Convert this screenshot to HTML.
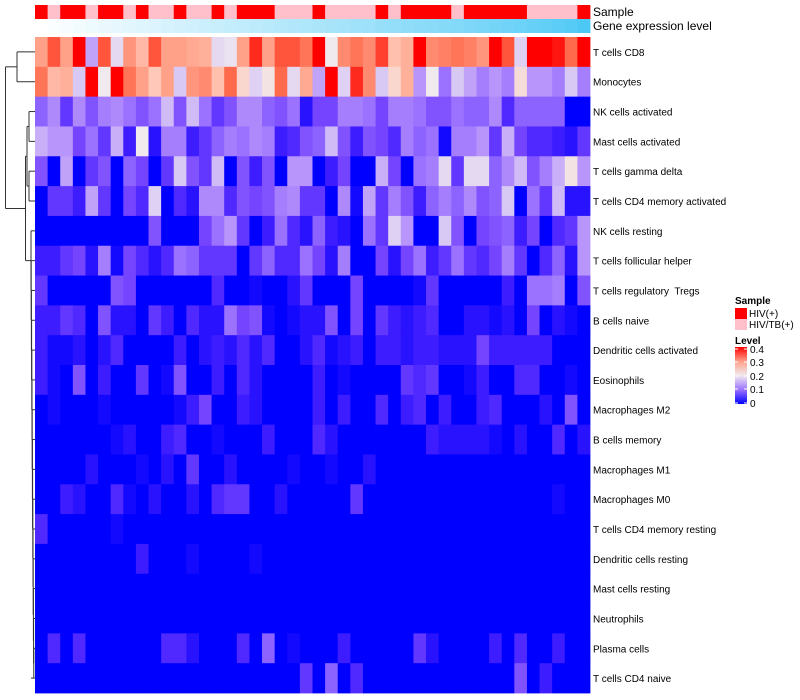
<!DOCTYPE html>
<html><head><meta charset="utf-8"><style>
html,body{margin:0;padding:0;background:#fff;}
svg{display:block;font-family:"Liberation Sans",sans-serif;}
#labels text{white-space:pre;}
</style></head><body>
<svg id="chart" width="800" height="700" viewBox="0 0 800 700">
<g id="cells"></g>
<g id="annot"></g>
<g id="labels"></g>
<g id="dendro" stroke="#333" stroke-width="1" fill="none"></g>
<text x="593" y="16" font-size="12">Sample</text>
<text x="593" y="30" font-size="12">Gene expression level</text>
<g>
<text x="735" y="304" font-size="10" font-weight="bold">Sample</text>
<rect x="735" y="308" width="12" height="11" fill="#ff0000"/>
<text x="749" y="317" font-size="10">HIV(+)</text>
<rect x="735" y="319" width="12" height="11" fill="#ffc0cb"/>
<text x="749" y="328" font-size="10">HIV/TB(+)</text>
<text x="735" y="344" font-size="10" font-weight="bold">Level</text>
<defs><linearGradient id="lg" x1="0" y1="1" x2="0" y2="0">
<stop offset="0" stop-color="#0000ff"/><stop offset="0.25" stop-color="#9a72ff"/><stop offset="0.5" stop-color="#f0eaee"/><stop offset="0.75" stop-color="#ffa088"/><stop offset="1" stop-color="#ff0000"/></linearGradient></defs>
<rect x="735" y="347" width="12" height="57" fill="url(#lg)"/>
<g stroke="#fff" stroke-width="1">
<line x1="735" y1="349" x2="738" y2="349"/><line x1="744" y1="349" x2="747" y2="349"/>
<line x1="735" y1="362" x2="738" y2="362"/><line x1="744" y1="362" x2="747" y2="362"/>
<line x1="735" y1="376" x2="738" y2="376"/><line x1="744" y1="376" x2="747" y2="376"/>
<line x1="735" y1="389" x2="738" y2="389"/><line x1="744" y1="389" x2="747" y2="389"/>
<line x1="735" y1="403" x2="738" y2="403"/><line x1="744" y1="403" x2="747" y2="403"/>
</g>
<text x="750" y="353" font-size="10">0.4</text>
<text x="750" y="366" font-size="10">0.3</text>
<text x="750" y="380" font-size="10">0.2</text>
<text x="750" y="393" font-size="10">0.1</text>
<text x="750" y="407" font-size="10">0</text>
</g>
</svg>
<script>
const rowNames = ["T cells CD8","Monocytes","NK cells activated","Mast cells activated","T cells gamma delta","T cells CD4 memory activated","NK cells resting","T cells follicular helper","T cells regulatory  Tregs","B cells naive","Dendritic cells activated","Eosinophils","Macrophages M2","B cells memory","Macrophages M1","Macrophages M0","T cells CD4 memory resting","Dendritic cells resting","Mast cells resting","Neutrophils","Plasma cells","T cells CD4 naive"];
const sampleGroups = ["H","P","H","H","P","H","H","P","H","P","P","H","P","P","H","P","H","H","H","P","P","P","H","P","P","P","P","H","P","H","H","H","H","P","H","H","H","H","H","P","P","P","P","H"];
const geneLevel = [0,0.02,0.05,0.07,0.1,0.12,0.14,0.16,0.18,0.2,0.23,0.25,0.27,0.29,0.31,0.33,0.35,0.37,0.39,0.41,0.43,0.45,0.47,0.49,0.51,0.53,0.55,0.58,0.6,0.62,0.64,0.66,0.68,0.7,0.72,0.75,0.77,0.8,0.82,0.85,0.88,0.91,0.95,1];
const r1=[0.3,0.36,0.3,0.4,0.13,0.36,0.18,0.31,0.27,0.36,0.3,0.3,0.29,0.28,0.18,0.19,0.3,0.38,0.3,0.36,0.36,0.34,0.4,0.2,0.32,0.34,0.32,0.37,0.26,0.28,0.4,0.32,0.33,0.34,0.33,0.31,0.4,0.36,0.17,0.4,0.4,0.39,0.35,0.4];
const r2=[0.34,0.27,0.28,0.16,0.4,0.2,0.4,0.34,0.3,0.25,0.3,0.16,0.31,0.32,0.26,0.35,0.23,0.17,0.21,0.35,0.18,0.29,0.13,0.4,0.17,0.38,0.32,0.16,0.23,0.28,0.12,0.2,0.09,0.16,0.13,0.1,0.12,0.1,0.22,0.12,0.12,0.1,0.16,0.1];
const r3=[0.08,0.11,0.05,0.11,0.07,0.1,0.11,0.09,0.07,0.09,0.15,0.07,0.15,0.09,0.05,0.07,0.11,0.11,0.08,0.07,0.09,0.02,0.06,0.06,0.1,0.1,0.09,0.06,0.1,0.1,0.09,0.07,0.07,0.09,0.08,0.08,0.11,0.04,0.08,0.08,0.08,0.08,0,0];
const r4=[0.14,0.12,0.12,0.06,0.09,0.05,0.14,0.03,0.2,0.02,0.1,0.1,0.03,0.05,0.08,0.1,0.09,0.11,0.1,0.03,0.04,0.07,0.08,0.15,0.07,0.03,0.07,0.06,0.04,0.1,0.08,0.09,0.01,0.1,0.1,0.12,0.05,0.14,0.06,0.04,0.04,0.03,0.02,0.05];
const r5=[0.07,0,0.13,0,0.05,0.07,0,0.08,0.06,0,0.05,0.16,0.07,0.05,0.15,0,0.07,0.03,0.07,0,0.12,0.12,0,0.03,0.06,0,0,0.14,0.06,0,0.09,0.1,0.18,0.05,0.18,0.18,0.08,0.11,0.15,0.07,0.1,0.14,0.21,0.12];
const r6=[0,0.05,0.05,0.03,0.13,0.05,0,0.06,0.04,0.17,0,0.04,0.02,0.11,0.11,0.04,0.07,0.06,0.07,0.1,0.11,0.05,0.05,0,0.11,0.01,0.13,0.05,0.1,0.07,0.03,0.08,0.1,0.08,0.11,0.07,0.08,0.16,0,0.09,0.05,0.15,0.02,0.02];
const r7=[0,0,0,0,0,0,0,0,0,0.07,0,0,0,0.06,0.09,0.12,0.05,0,0.03,0.09,0.04,0.02,0.08,0.03,0.02,0,0.09,0.05,0.17,0.12,0,0,0.16,0.07,0,0.06,0.07,0.08,0.03,0.06,0,0.04,0.05,0.12];
const r8=[0.03,0.03,0.05,0.06,0.02,0.1,0.01,0.06,0.04,0.02,0.04,0.09,0.08,0.05,0.05,0.05,0,0.05,0.08,0.04,0.04,0.09,0.06,0.02,0.1,0,0,0.06,0.02,0.06,0.09,0.03,0.05,0.09,0.05,0.04,0.06,0.1,0.05,0,0.04,0.08,0.02,0.12];
const r9=[0.05,0,0,0,0,0,0.07,0.06,0,0,0,0,0,0,0.04,0,0,0.01,0,0,0.02,0.05,0,0,0,0.06,0,0,0,0,0.01,0.05,0,0,0,0,0,0.03,0,0.09,0.09,0.1,0,0.07];
const r10=[0.03,0.03,0.05,0.04,0,0.07,0.02,0.02,0,0.05,0.03,0,0.04,0.02,0.02,0.09,0.06,0.07,0.01,0,0.01,0.02,0.02,0.07,0,0.06,0,0.05,0.03,0.02,0.03,0.04,0,0,0.02,0.02,0.01,0.02,0,0.06,0,0.02,0.01,0];
const r11=[0.03,0.01,0.01,0.02,0,0.02,0.04,0,0,0,0,0.03,0,0.02,0.03,0.02,0.04,0.02,0.04,0,0,0.02,0.04,0.01,0.02,0.03,0,0.03,0.03,0.02,0.03,0.03,0.02,0.02,0.02,0.06,0.03,0.03,0.03,0.03,0.03,0,0,0];
const r12=[0.03,0.01,0,0.07,0,0.03,0,0,0.05,0,0.01,0.07,0,0,0.03,0,0.04,0.02,0,0,0,0,0.03,0,0.01,0,0,0,0,0.05,0.04,0.05,0,0,0.01,0.03,0,0,0.04,0.04,0,0,0.01,0];
const r13=[0,0.01,0,0,0,0.01,0,0,0,0,0,0.01,0.03,0.06,0,0,0.03,0.02,0,0,0,0,0.03,0,0.03,0,0,0.04,0,0.03,0.04,0,0.03,0,0,0.03,0.04,0,0,0,0.02,0,0.07,0];
const r14=[0,0,0,0,0,0,0.01,0.02,0,0,0.03,0.04,0,0,0.01,0,0,0,0.03,0,0,0,0.04,0.02,0,0,0,0,0,0,0,0.03,0.02,0.02,0.02,0.02,0.01,0,0.02,0,0,0.04,0,0.02];
const r15=[0,0,0,0,0.02,0,0,0,0.01,0,0.02,0,0.05,0,0,0.02,0,0,0,0,0.01,0,0,0.01,0,0,0.02,0,0,0,0,0,0,0,0,0,0,0,0,0,0,0,0,0];
const r16=[0,0,0.03,0.02,0,0,0.04,0.01,0,0.02,0,0,0.02,0,0.04,0.05,0.05,0,0,0.02,0,0,0,0,0,0.05,0,0,0,0,0,0,0,0,0,0,0,0,0,0,0,0.01,0,0];
const r17=[0.04,0,0,0,0,0,0.01,0,0,0,0,0,0,0,0,0,0,0,0,0,0,0,0,0,0,0,0,0,0,0,0,0,0,0,0,0,0,0,0,0,0,0,0,0];
const r18=[0,0,0,0,0,0,0,0,0.03,0,0,0,0.01,0,0,0,0,0.01,0,0,0,0,0,0,0,0,0,0,0,0,0,0,0,0,0,0,0,0,0,0,0,0,0,0];
const r19=[0,0,0,0,0,0,0,0,0,0,0,0,0,0,0,0,0,0,0,0,0,0,0,0,0,0,0,0,0,0,0,0,0,0,0,0,0,0,0,0,0,0,0,0];
const r20=[0,0,0,0,0,0,0,0,0,0,0,0,0,0,0,0,0,0,0,0,0,0,0,0,0,0,0,0,0,0,0,0,0,0,0,0,0,0,0,0,0,0,0,0];
const r21=[0,0.04,0,0.04,0,0,0,0,0,0,0.04,0.04,0.02,0,0,0,0.04,0,0.08,0,0.01,0,0,0,0.03,0,0,0,0,0,0.05,0.02,0,0,0,0,0.03,0,0.04,0,0,0.03,0,0];
const r22=[0,0,0,0,0,0,0,0,0,0,0,0,0,0,0,0,0,0,0,0,0,0.05,0,0.08,0,0.04,0,0,0,0,0,0,0,0,0,0,0,0,0.07,0,0.03,0,0,0];
const matrix=[r1,r2,r3,r4,r5,r6,r7,r8,r9,r10,r11,r12,r13,r14,r15,r16,r17,r18,r19,r20,r21,r22];

const NS="http://www.w3.org/2000/svg";
const X0=35, X1=590, Y0=37, Y1=693;
const nCol=sampleGroups.length, nRow=rowNames.length;
const cw=(X1-X0)/nCol, rh=(Y1-Y0)/nRow;
function xPos(c){return X0+c*cw;}
function yPos(r){return Y0+r*rh;}
const stops=[[0,[0,0,255]],[0.03,[61,28,255]],[0.06,[116,68,255]],[0.09,[154,114,255]],[0.12,[184,149,250]],[0.16,[216,200,244]],[0.2,[240,234,238]],[0.25,[255,200,184]],[0.3,[255,160,136]],[0.35,[255,106,76]],[0.4,[255,0,0]]];
function colorOf(v){
  v=Math.max(0,Math.min(0.4,v));
  for(let i=1;i<stops.length;i++){
    if(v<=stops[i][0]){const a=stops[i-1],b=stops[i];const t=(v-a[0])/(b[0]-a[0]);
      const c=a[1].map((x,k)=>Math.round(x+(b[1][k]-x)*t));return `rgb(${c[0]},${c[1]},${c[2]})`;}
  }
  return "rgb(255,0,0)";
}
function mk(tag,attrs,parent){const e=document.createElementNS(NS,tag);for(const k in attrs)e.setAttribute(k,attrs[k]);parent.appendChild(e);return e;}
const cells=document.getElementById('cells');
matrix.forEach((row,r)=>{row.forEach((v,c)=>{
  const e=mk('rect',{x:xPos(c),y:yPos(r),width:cw+0.4,height:rh+0.4,fill:colorOf(v)},cells);
  
  
});});
const annot=document.getElementById('annot');
sampleGroups.forEach((g,c)=>{
  const e=mk('rect',{x:xPos(c),y:5,width:cw+0.4,height:14,fill:g==="H"?"#ff0000":"#ffc0cb"},annot);
  
  
});
geneLevel.forEach((v,c)=>{
  const r=Math.round(255+(76-255)*v),g=Math.round(255+(200-255)*v),b=Math.round(255+(245-255)*v);
  const e=mk('rect',{x:xPos(c),y:19,width:cw+0.4,height:14,fill:`rgb(${r},${g},${b})`},annot);
  
  
});
const labels=document.getElementById('labels');
rowNames.forEach((n,r)=>{
  const t=mk('text',{x:593,y:yPos(r)+rh/2+4,'font-size':10,fill:'#000'},labels);
  t.textContent=n;
  
  
});
const d=document.getElementById('dendro');
function cy(r){return yPos(r)+rh/2;}
function seg(x1,y1,x2,y2){const l=mk('line',{x1:x1,y1:y1,x2:x2,y2:y2},d);}
seg(17,cy(0),35,cy(0));seg(17,cy(1),35,cy(1));seg(17,cy(0),17,cy(1));
seg(29,cy(2),35,cy(2));seg(29,cy(3),35,cy(3));seg(29,cy(2),29,cy(3));
seg(29,cy(4),35,cy(4));seg(29,cy(5),35,cy(5));seg(29,cy(4),29,cy(5));
const a23=(cy(2)+cy(3))/2,a45=(cy(4)+cy(5))/2;
seg(27,a23,29,a23);seg(27,a45,29,a45);seg(27,a23,27,a45);
let prevY=cy(21), prevX=34;
for(let r=20;r>=6;r--){
  const x=34-(21-r)*0.2;
  seg(x,cy(r),35,cy(r));
  seg(prevX,prevY,x,prevY);
  seg(x,cy(r),x,prevY);
  prevY=(cy(r)+prevY)/2; prevX=x;
}
seg(prevX,cy(21),35,cy(21));
const aMid=(a23+a45)/2;
seg(25.5,aMid,27,aMid);seg(25.5,prevY,prevX,prevY);seg(25.5,aMid,25.5,prevY);
const bMid=(aMid+prevY)/2, tMid=(cy(0)+cy(1))/2;
seg(5.5,bMid,25.5,bMid);seg(5.5,tMid,17,tMid);seg(5.5,tMid,5.5,bMid);
</script>
</body></html>
